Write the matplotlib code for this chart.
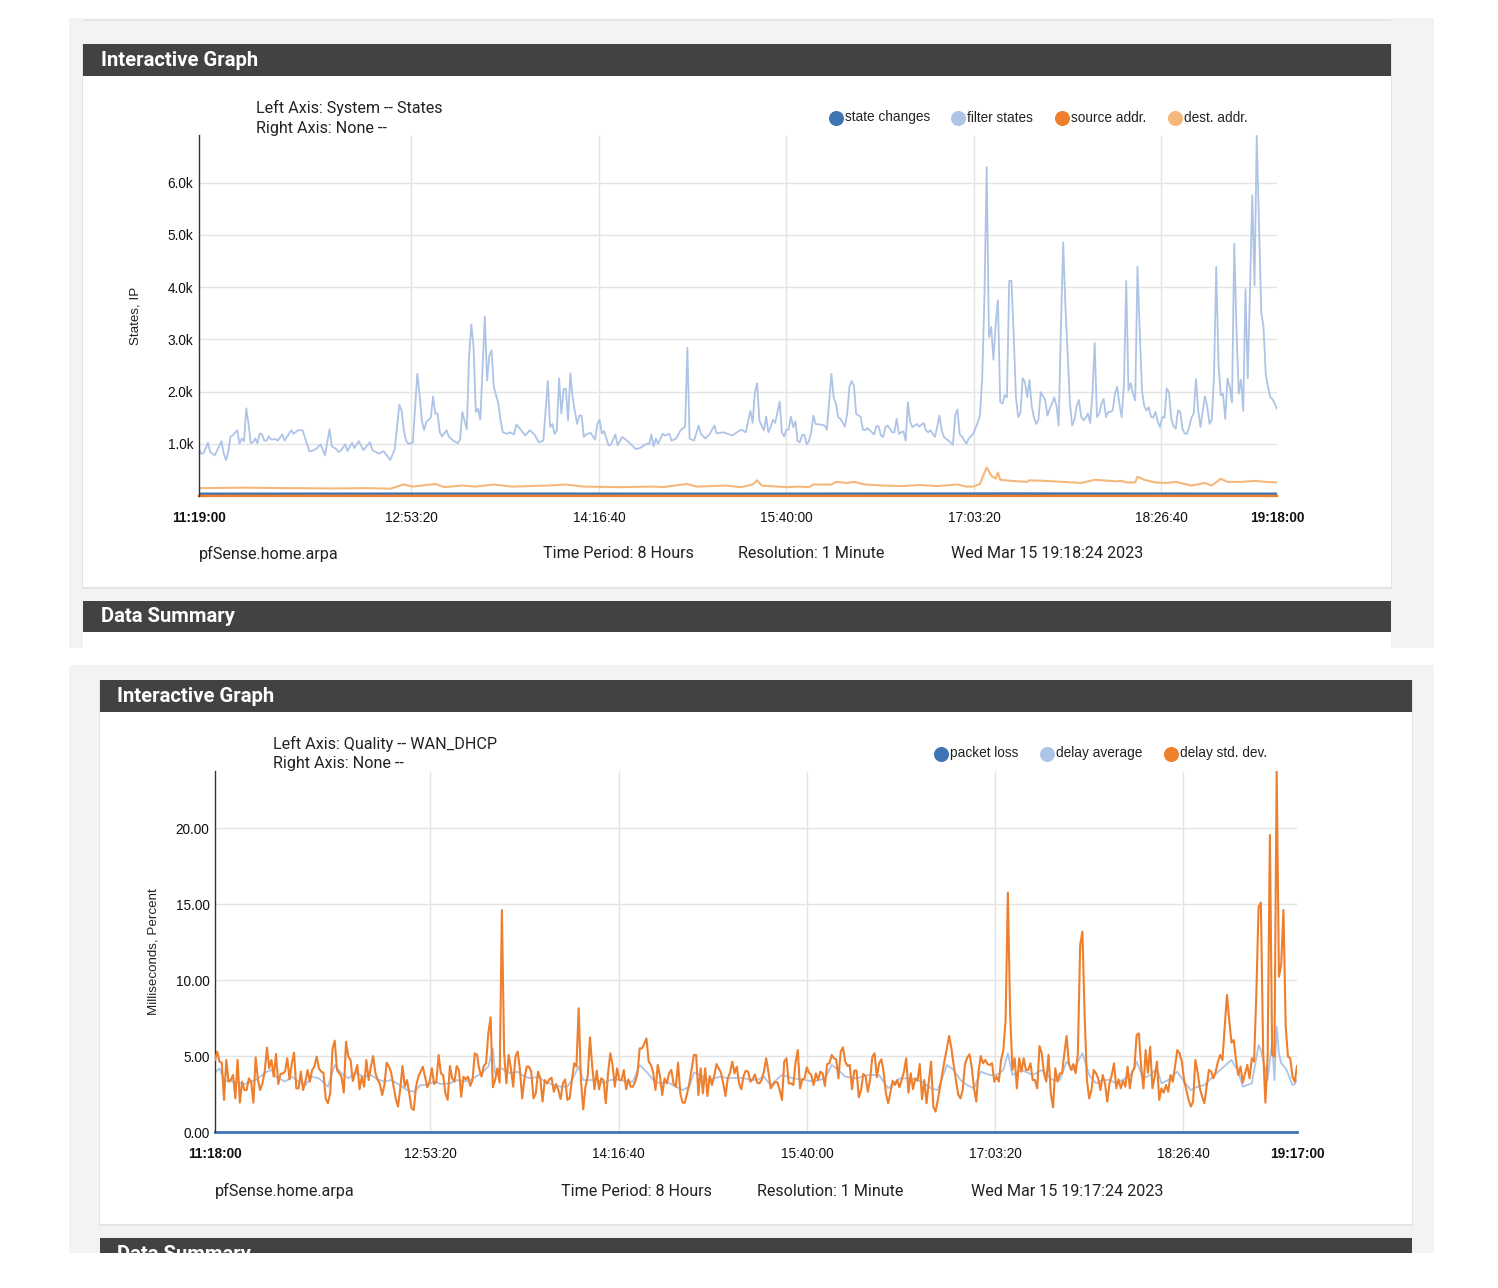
import numpy as np
import matplotlib
matplotlib.use("Agg")
import matplotlib.pyplot as plt
from matplotlib.patches import Rectangle
from matplotlib.lines import Line2D

W, H = 1498, 1288

# ---------------- top graph: System -- States ----------------
st_ticks = [0, 94.33, 177.67, 261, 344.33, 427.67, 479]
st_tick_labels = ["11:19:00", "12:53:20", "14:16:40", "15:40:00", "17:03:20", "18:26:40", "19:18:00"]
st_yticks = [1000, 2000, 3000, 4000, 5000, 6000]

# filter states (minute offset, states)
fs_min = [0, 1, 2, 4, 5, 7, 8, 10, 11, 12, 13, 14, 15, 17, 18, 19, 20, 21, 22, 23, 24, 25, 26, 27, 28, 29, 30,
          31, 32, 34, 35, 37, 38, 41, 42, 44, 46, 49, 50, 52, 54, 56, 58, 59, 61, 62, 63, 65, 66, 68, 69, 71,
          73, 76, 77, 80, 82, 85, 87, 89, 90, 91, 92, 93, 95, 97, 98, 99, 100, 101, 103, 104, 105, 106, 107,
          108, 110, 111, 113, 115, 116, 117, 119, 120, 121, 122, 123, 124, 125, 127, 128, 129, 130, 131, 133,
          134, 135, 137, 138, 140, 141, 142, 145, 147, 149, 151, 153, 154, 155, 156, 157, 158, 159, 160, 161,
          162, 163, 164, 165, 166, 168, 169, 170, 171, 172, 174, 176, 177, 178, 179, 180, 182, 183, 185, 186,
          188, 189, 191, 194, 196, 199, 200, 201, 202, 203, 204, 206, 207, 209, 210, 212, 214, 216, 217, 218,
          220, 222, 223, 225, 227, 229, 230, 233, 235, 237, 239,
          241, 243, 245, 246, 247, 248, 249, 250, 251, 252, 253, 254, 255, 256, 258, 259, 260, 261, 262, 263,
          264, 265, 266, 267, 268, 269, 270, 271, 272, 273, 274, 276, 278, 279, 281, 282, 283, 284, 285, 287,
          288, 289, 290, 291, 292, 294, 295, 296, 297, 298, 300, 301, 302, 303, 304, 305, 306, 308, 309, 310,
          311, 312, 313, 314, 315, 316, 317, 319, 320, 322, 323, 324, 325, 327, 328, 329, 330, 331, 333, 335,
          336, 337, 338, 339, 341, 342, 344, 346, 347, 348, 349, 350, 351, 352, 353, 354, 355, 356, 357, 358,
          359, 360, 361, 362, 363, 364, 365, 366, 367, 368, 369, 370, 371, 372, 373, 374, 375, 376, 377, 378,
          379, 380, 381, 382, 383, 384, 385, 387, 388, 389, 390, 391, 392, 393, 394, 395, 396, 397, 398, 399,
          400, 401, 402, 403, 404, 405, 406, 407, 408, 409, 410, 411, 412, 413, 414, 415, 416, 417, 418, 419,
          420, 421, 422, 423, 424, 425, 426, 427, 428, 429, 430, 431, 432, 433, 434, 435, 436, 437, 438, 439,
          440, 441, 442, 443, 444, 445, 446, 447, 448, 449, 450, 451, 452, 453, 454, 455, 456, 457, 458, 459,
          460, 461, 462, 463, 464, 465, 466, 467, 468, 469, 470, 471, 472, 473, 474, 475, 476, 477, 479]
fs_val = [900, 810, 820, 1020, 840, 780, 870, 1050, 810, 690, 840, 1140, 1160, 1260, 1000, 1100, 1050, 1680,
          1380, 1010, 1030, 1100, 1010, 1200, 1180, 1060, 1060, 1140, 1080, 1090, 1060, 1180, 1060, 1260, 1190,
          1260, 1260, 860, 860, 900, 990, 780, 1280, 950, 900, 840, 870, 990, 860, 1020, 920, 1050, 880, 1030,
          880, 810, 860, 690, 900, 1750, 1640, 1260, 1060, 1000, 1020, 2340, 1960, 1450, 1260, 1420, 1500, 1910,
          1580, 1580, 1220, 1140, 1260, 1140, 1060, 1010, 1080, 1610, 1280, 2660, 3290, 2850, 1610, 1670, 1460,
          3440, 2210, 2690, 2790, 2090, 1770, 1450, 1220, 1190, 1220, 1180, 1370, 1320, 1160, 1260, 1180, 1030,
          1060, 1640, 2200, 1320, 1380, 1190, 1260, 2250, 1580, 2050, 2050, 1450, 2350, 1890, 1380, 1540, 1540,
          1130, 1180, 1210, 1080, 1380, 1460, 1200, 1240, 970, 980, 1180, 970, 1130, 1100, 1030, 900, 920, 1000,
          990, 1180, 950, 1100, 1000, 1190, 1160, 1190, 1060, 1100, 1260, 1330, 2840, 1100, 1060, 1350, 1190,
          1100, 1190, 1350, 1200, 1220, 1190, 1160, 1220,
          1270, 1220, 1630, 1400, 1990, 2160, 1450, 1350, 1260, 1520, 1220, 1320, 1460, 1400, 1810, 1220, 1140,
          1270, 1270, 1520, 1320, 1430, 1050, 1030, 1170, 1170, 990, 1050, 1220, 1540, 1380, 1370, 1350, 1270,
          2340, 1890, 1770, 1510, 1480, 1330, 1570, 2090, 2200, 2120, 1570, 1520, 1270, 1260, 1300, 1260, 1180,
          1340, 1330, 1160, 1130, 1320, 1350, 1220, 1220, 1480, 1190, 1220, 1240, 1060, 1800, 1420, 1320, 1380,
          1330, 1400, 1260, 1220, 1260, 1130, 1320, 1540, 1260, 1130, 1060, 980, 1540, 1660, 1180, 1140, 1000,
          1100, 1190, 1400, 1540, 2250, 3810, 6300, 3040, 3240, 2610, 3300, 3750, 1800, 1770, 1930, 1890, 4120,
          4120, 3080, 1890, 1510, 1590, 2260, 2180, 1890, 2220, 1720, 1510, 1380, 1460, 1990, 1910, 1840, 1540,
          1670, 1770, 1890, 1730, 1350, 3240, 4860, 3620, 1770, 1350, 1460, 1730, 1840, 1520, 1450, 1500, 1580,
          1400, 1960, 2930, 1510, 1580, 1770, 1860, 1510, 1610, 1610, 1640, 1960, 2090, 1750, 1510, 2150, 4120,
          2020, 2160, 1960, 1830, 4390, 3170, 2020, 1720, 1640, 1700, 1520, 1500, 1610, 1420, 1320, 1510, 1500,
          2060, 1990, 1480, 1340, 1290, 1640, 1610, 1290, 1200, 1190, 1320, 1500, 1580, 2240, 1640, 1320, 1640,
          1910, 1720, 1380, 1460, 2280, 4390, 2530, 1930, 1960, 1480, 2250, 2090, 1790, 4830, 3170, 1960, 2230,
          1630, 3960, 2250, 3940, 5760, 4030, 6900, 5210, 3520, 3240, 2340, 2090, 1890, 1860, 1670]

# dest. addr.
dst_min = [0, 20, 40, 60, 75, 85, 91, 95, 105, 109, 117, 123, 131, 139, 155, 163, 171, 187, 202, 206, 215, 217,
           221, 234, 241, 246, 248, 250, 257, 262, 266, 271, 273, 281, 283, 288, 291, 296, 304, 312, 320, 328,
           337, 341, 344, 347, 350, 352, 354, 355, 356, 361, 368, 369, 376, 384, 392, 398, 408, 410, 412, 416,
           417, 420, 425, 430, 434, 441, 447, 450, 454, 457, 463, 469, 474, 479]
dst_val = [150, 160, 150, 145, 150, 140, 220, 180, 230, 170, 200, 180, 220, 180, 200, 220, 180, 170, 180, 170,
           220, 230, 180, 200, 170, 220, 300, 200, 180, 170, 180, 170, 220, 220, 270, 250, 270, 220, 200, 190,
           210, 190, 220, 180, 180, 230, 550, 390, 330, 450, 310, 290, 270, 300, 290, 270, 250, 310, 280, 290,
           260, 260, 370, 310, 260, 250, 270, 200, 250, 200, 330, 270, 270, 290, 270, 260]

# state changes / source addr. (hug the baseline)
sc_min = [0, 120, 240, 360, 479]
sc_val = [40, 42, 40, 44, 40]
src_val = [2, 3, 2, 3, 2]

# ---------------- bottom graph: Quality -- WAN_DHCP ----------------
q_ticks = [0, 95.33, 178.67, 262, 345.33, 428.67, 479]
q_tick_labels = ["11:18:00", "12:53:20", "14:16:40", "15:40:00", "17:03:20", "18:26:40", "19:17:00"]
q_yticks = [0, 5, 10, 15, 20]

pl_min = [0, 120, 240, 360, 479]
pl_val = [0, 0, 0, 0, 0]

avg_min = [0, 2, 4, 8, 13, 18, 23, 25, 27, 31, 34, 37, 40, 43, 46, 50, 53, 56, 59, 62, 66, 69, 72, 75, 78, 81,
           85, 88, 91, 94, 97, 100, 104, 107, 110, 113, 116, 118, 121, 123, 124, 127, 129, 131, 134, 137, 140,
           143, 146, 150, 153, 156, 158, 161, 163, 166, 169, 172, 175, 178, 181, 185, 188, 191, 194, 197, 200,
           204, 207, 210, 212, 215, 218, 221, 224, 227, 231, 234, 237, 240, 243, 246,
           251, 256, 260, 265, 270, 273, 276, 279, 284, 289, 294, 298, 303, 308, 313, 317, 320, 324, 327, 330,
           333, 336, 339, 343, 346, 349, 351, 353, 357, 362, 366, 371, 374, 377, 380, 384, 387, 390, 393, 396,
           399, 403, 406, 408, 411, 414, 417, 419, 422, 426, 429, 432, 435, 438, 441, 445, 450, 453, 455, 459,
           462, 463, 466, 468, 469, 470, 471, 472, 474, 475, 477, 478, 479]
avg_val = [3.90, 4.19, 3.42, 3.31, 3.16, 3.42, 3.97, 4.08, 3.64, 3.31, 3.64, 3.31, 3.09, 3.64, 3.53, 2.98, 4.41,
           3.86, 3.53, 3.90, 3.64, 3.75, 3.46, 3.31, 3.42, 3.16, 2.76, 2.65, 3.09, 3.09, 3.31, 3.16, 3.20, 3.42,
           3.31, 3.42, 3.68, 3.86, 4.30, 5.50, 3.86, 4.19, 3.97, 3.86, 3.97, 3.64, 3.53, 3.64, 3.31, 3.09, 2.98,
           2.98, 3.42, 4.30, 3.42, 3.42, 3.42, 3.20, 3.42, 3.46, 3.36, 3.31, 4.41, 3.97, 3.42, 3.20, 3.31, 2.98,
           2.76, 2.98, 3.90, 3.75, 3.42, 3.53, 3.64, 3.53, 3.57, 3.53, 3.46, 3.42, 3.64, 3.09,
           3.75, 3.53, 3.46, 3.31, 3.53, 4.41, 4.08, 3.64, 3.53, 3.75, 3.75, 2.87, 3.53, 3.53, 3.31, 2.87, 2.76,
           4.41, 4.08, 3.42, 3.09, 2.87, 3.97, 3.75, 3.75, 4.08, 5.18, 3.75, 4.08, 3.75, 4.08, 3.42, 3.42, 4.63,
           4.08, 5.18, 3.75, 3.20, 3.42, 3.42, 3.20, 3.53, 3.86, 4.63, 3.53, 3.75, 4.19, 3.20, 3.42, 3.97, 3.31,
           2.76, 2.98, 3.09, 3.53, 4.08, 4.74, 3.97, 2.98, 3.20, 5.72, 5.39, 3.42, 5.94, 3.42, 6.93, 5.18, 4.52,
           4.19, 3.86, 3.09, 3.16, 3.46]

# delay std. dev., one reading per minute (a few minutes not readable)
dev_min = np.r_[0:79, 80:93, 94:247, 248:321, 323:480]
dev_val = [4.74, 5.29, 4.63, 4.56, 2.11, 4.74, 3.31, 3.42, 3.75, 2.21, 4.74, 1.93, 3.31, 2.76, 2.76, 3.53, 3.31,
           1.93, 4.91, 3.42, 2.76, 3.20, 3.97, 5.55, 4.19, 4.74, 3.64, 5.13, 3.16, 3.82, 3.86, 3.97, 4.85, 3.46,
           4.52, 5.22, 2.87, 2.87, 3.97, 2.76, 3.31, 4.08, 3.31, 4.08, 4.30, 4.96, 4.19, 3.97, 3.90, 2.21, 1.89,
           2.54, 5.44, 6.01, 4.08, 3.86, 3.64, 2.59, 5.94, 4.96, 4.74, 3.36, 3.86, 4.41, 2.81, 3.64, 2.98, 4.74,
           3.42, 4.30, 5.00, 3.90, 3.42, 3.16, 2.43, 3.09, 4.56, 4.30, 3.90,
           2.21, 1.67, 2.81, 4.34, 2.98, 3.42, 2.54, 1.56, 1.45, 2.98, 3.64, 3.97, 4.30,
           2.94, 3.31, 4.19, 3.16, 3.31, 5.07, 3.86, 3.75, 2.54, 2.11, 4.34, 3.53, 3.31, 4.34, 4.08, 2.32, 3.64,
           3.46, 3.64, 3.03, 3.42, 5.18, 5.07, 4.12, 3.64, 4.34, 4.52, 6.49, 7.54, 2.94, 3.42, 4.19, 3.25, 14.6,
           5.18, 3.20, 5.07, 4.19, 2.98, 4.96, 5.29, 4.08, 2.21, 3.53, 4.30, 4.30, 3.97, 2.21, 2.54, 3.97, 3.53,
           2.00, 3.42, 3.20, 3.46, 3.57, 2.65, 3.16, 2.76, 2.17, 3.20, 3.46, 2.11, 2.21, 3.42, 4.52, 4.30, 8.14,
           3.42, 1.49, 2.98, 3.68, 6.23, 4.30, 2.81, 4.04, 2.81, 3.53, 3.42, 1.89, 3.86, 5.18, 4.41, 2.98, 4.19,
           3.42, 3.42, 4.08, 2.81, 3.46, 2.98, 2.98, 3.31, 3.82, 5.50, 5.50, 5.79, 6.16, 4.63, 4.41, 3.90, 2.76,
           4.41, 3.68, 2.43, 3.53, 3.20, 3.86, 4.08, 3.20, 2.98, 4.56, 2.54, 1.93, 1.93, 2.54, 3.20, 4.12, 5.07,
           5.07, 2.43, 4.19, 2.54, 4.19, 2.37, 3.68, 3.09, 3.68, 4.47, 4.19, 3.90, 3.20, 2.37, 3.53, 3.90, 4.63,
           3.86, 4.30, 3.20, 2.81, 3.68, 4.04, 3.97, 3.31, 3.46, 3.79, 3.25, 3.20, 3.42, 3.97, 4.85, 3.97, 2.87,
           3.31, 3.25, 2.76, 2.11, 4.63, 4.85, 3.20, 3.20, 3.09, 4.56, 5.39, 2.87, 3.46, 3.53, 4.25, 3.90, 3.75,
           3.09, 3.86, 3.42, 3.97, 3.86, 3.03, 4.47, 4.52, 5.07, 4.85, 4.78, 3.53, 5.29, 5.57, 4.63, 4.34, 4.41,
           2.81, 4.04, 4.04, 2.28, 2.76, 3.82, 3.68, 2.65, 3.42, 4.96, 5.18, 3.60, 4.52, 4.78, 3.97, 2.54, 1.89,
           2.59, 3.38, 3.09, 3.42, 2.94, 3.42, 3.97, 4.85, 2.59, 3.86, 2.81, 3.53, 3.38, 4.47, 2.15, 3.42, 1.89,
           3.31, 4.63, 1.67, 1.34, 2.11,
           4.74, 5.50, 6.32, 5.50, 4.41, 3.42, 2.48, 2.21, 2.76, 4.47, 4.89, 5.11, 4.30, 2.87, 2.00, 3.97, 5.00,
           4.52, 4.74, 4.47, 4.41, 4.52, 3.31, 3.64, 3.31, 4.74, 5.39, 7.37, 15.75, 7.81, 4.08, 4.85, 2.87, 4.85,
           3.97, 4.85, 4.08, 4.08, 4.52, 3.42, 3.42, 2.87, 5.66, 5.18, 3.86, 3.31, 5.07, 2.54, 1.62, 4.19, 3.31,
           3.86, 3.86, 5.18, 6.32, 4.52, 4.08, 4.47, 3.86, 5.18, 12.30, 13.18, 7.59, 3.42, 2.21, 2.76, 4.08, 3.86,
           3.53, 2.76, 3.75, 3.20, 2.00, 3.20, 3.75, 4.52, 2.87, 3.46, 2.87, 3.38, 2.98, 4.30, 2.87, 3.97, 4.19,
           6.38, 6.49, 4.30, 2.87, 5.39, 3.90, 5.61, 2.87, 3.64, 4.63, 2.11, 2.87, 2.59, 3.09, 2.65, 3.75, 3.31,
           4.30, 5.39, 5.18, 4.63, 3.42, 2.76, 2.11, 1.67, 2.00, 4.74, 3.97, 2.87, 2.32, 1.89, 2.98, 4.08, 3.97,
           3.53, 3.97, 4.63, 5.07, 4.74, 6.93, 9.01, 7.37, 5.88, 6.05, 4.74, 3.75, 4.30, 3.25, 3.86, 4.41, 3.53,
           4.85, 4.63, 9.12, 14.82, 15.09, 5.39, 1.93, 4.96, 19.54, 5.07, 4.96, 23.82, 10.22, 10.99, 14.61, 6.93,
           4.96, 4.85, 3.64, 3.31, 4.34]

C_DARK_BLUE = "#3f74b3"
C_LIGHT_BLUE = "#aec4e7"
C_ORANGE = "#ee7f2d"
C_LIGHT_ORANGE = "#f5b77b"
C_BAR = "#424242"
C_PAGE = "#f3f3f3"
C_GRID = "#e4e4e4"

fig = plt.figure(figsize=(W / 100, H / 100), dpi=100)
fig.patch.set_facecolor("white")


def fx(x):
    return x / W


def fy(y):
    return 1 - y / H


def box(x0, y0, x1, y1, color, z=-5):
    fig.add_artist(Rectangle((fx(x0), fy(y1)), (x1 - x0) / W, (y1 - y0) / H, transform=fig.transFigure,
                             facecolor=color, edgecolor="none", zorder=z))


def text(x, y, s, size=11.6, family="Roboto", **kw):
    fig.text(fx(x), fy(y), s, fontsize=size, family=family, va="center", color="#222222", **kw)


def bar_title(x, y, s):
    fig.text(fx(x), fy(y), s, fontsize=14.6, family="Roboto", fontweight="bold", color="white",
             va="center", zorder=6)


def legend(items, y):
    for x, label, color in items:
        fig.add_artist(Line2D([fx(x)], [fy(y)], marker="o", markersize=9.8, color=color,
                              transform=fig.transFigure, zorder=6))
        text(x + 9, y, label, size=9.8, family="Liberation Sans")


def graph(x0, y0, x1, y1, ymax, yticks, yfmt, ticks, tick_labels, ylabel, ylabel_x):
    ax = fig.add_axes([fx(x0), fy(y1), (x1 - x0) / W, (y1 - y0) / H])
    ax.set_facecolor("white")
    ax.set_xlim(0, 479)
    ax.set_ylim(0, ymax)
    for s in ["top", "right", "bottom"]:
        ax.spines[s].set_visible(False)
    ax.spines["left"].set_color("#333333")
    ax.spines["left"].set_linewidth(1.0)
    ax.hlines(yticks, 0, 479, color=C_GRID, lw=1.0, zorder=0.5)
    ax.vlines(ticks[1:-1], 0, ymax, color=C_GRID, lw=1.0, zorder=0.5)
    ax.set_yticks(yticks, [yfmt(v) for v in yticks])
    ax.set_xticks(ticks, tick_labels)
    ax.tick_params(length=0, labelsize=9.8, colors="#111111")
    ax.tick_params(axis="x", pad=11)
    ax.tick_params(axis="y", pad=4)
    for lab in ax.get_xticklabels() + ax.get_yticklabels():
        lab.set_fontfamily("Liberation Sans")
    ax.get_xticklabels()[0].set_fontweight("bold")
    ax.get_xticklabels()[-1].set_fontweight("bold")
    fig.text(fx(ylabel_x), fy((y0 + y1) / 2), ylabel, rotation=90, ha="center", va="center",
             fontsize=9.6, family="Liberation Sans", color="#222222")
    return ax


# ---------- page backgrounds (top screenshot) ----------
box(69, 18, 1434, 648, C_PAGE, z=-9)
box(83, 0, 1391, 21, "#e6e6e6", z=-8)
box(83, 0, 1391, 19, "white", z=-7)
box(82, 44, 1392, 589, "#e3e3e3", z=-8)
box(83, 44, 1391, 76, C_BAR, z=-7)
box(83, 76, 1391, 587, "white", z=-7)
box(83, 601, 1391, 632, C_BAR, z=-7)
box(83, 632, 1391, 648, "white", z=-7)
bar_title(101, 61, "Interactive Graph")
bar_title(101, 617, "Data Summary")

# ---------- page backgrounds (bottom screenshot) ----------
box(69, 665, 1434, 1253, C_PAGE, z=-9)
box(99, 680, 1413, 1226, "#e3e3e3", z=-8)
box(100, 680, 1412, 712, C_BAR, z=-7)
box(100, 712, 1412, 1224, "white", z=-7)
box(100, 1238, 1412, 1270, C_BAR, z=-7)
bar_title(117, 697, "Interactive Graph")
bar_title(117, 1255, "Data Summary")

# ---------- top graph ----------
ax1 = graph(199, 135, 1277, 496, 6915, st_yticks, lambda v: f"{v / 1000:.1f}k",
            st_ticks, st_tick_labels, "States, IP", 136)
ax1.plot(sc_min, sc_val, color=C_DARK_BLUE, lw=2.0, zorder=2)
ax1.plot(sc_min, src_val, color=C_ORANGE, lw=1.8, zorder=2, clip_on=False)
ax1.plot(fs_min, fs_val, color=C_LIGHT_BLUE, lw=1.3, zorder=2)
ax1.plot(dst_min, dst_val, color=C_LIGHT_ORANGE, lw=1.5, zorder=2)

text(256, 108, "Left Axis: System -- States", size=11.6)
text(256, 128, "Right Axis: None --", size=11.6)
legend([(836, "state changes", C_DARK_BLUE), (958, "filter states", C_LIGHT_BLUE),
        (1062, "source addr.", C_ORANGE), (1175, "dest. addr.", C_LIGHT_ORANGE)], 117.5)
text(199, 554, "pfSense.home.arpa")
text(543, 554, "Time Period: 8 Hours")
text(738, 554, "Resolution: 1 Minute")
text(951, 554, "Wed Mar 15 19:18:24 2023")

# ---------- bottom graph ----------
ax2 = graph(215, 771, 1297, 1132, 23.75, q_yticks, lambda v: f"{v:.2f}",
            q_ticks, q_tick_labels, "Milliseconds, Percent", 153)
ax2.plot(pl_min, pl_val, color=C_DARK_BLUE, lw=2.0, zorder=2, clip_on=False)
ax2.plot(avg_min, avg_val, color=C_LIGHT_BLUE, lw=1.3, zorder=2)
ax2.plot(dev_min, dev_val, color=C_ORANGE, lw=1.5, zorder=3)

text(273, 744, "Left Axis: Quality -- WAN_DHCP", size=11.6)
text(273, 764, "Right Axis: None --", size=11.6)
legend([(941, "packet loss", C_DARK_BLUE), (1047, "delay average", C_LIGHT_BLUE),
        (1171, "delay std. dev.", C_ORANGE)], 753.5)
text(215, 1191, "pfSense.home.arpa")
text(561, 1191, "Time Period: 8 Hours")
text(757, 1191, "Resolution: 1 Minute")
text(971, 1191, "Wed Mar 15 19:17:24 2023")

# screenshot is cut off at the bottom
box(0, 1253, W, H, "white", z=20)

fig.savefig("out.png", dpi=100, facecolor="white")
